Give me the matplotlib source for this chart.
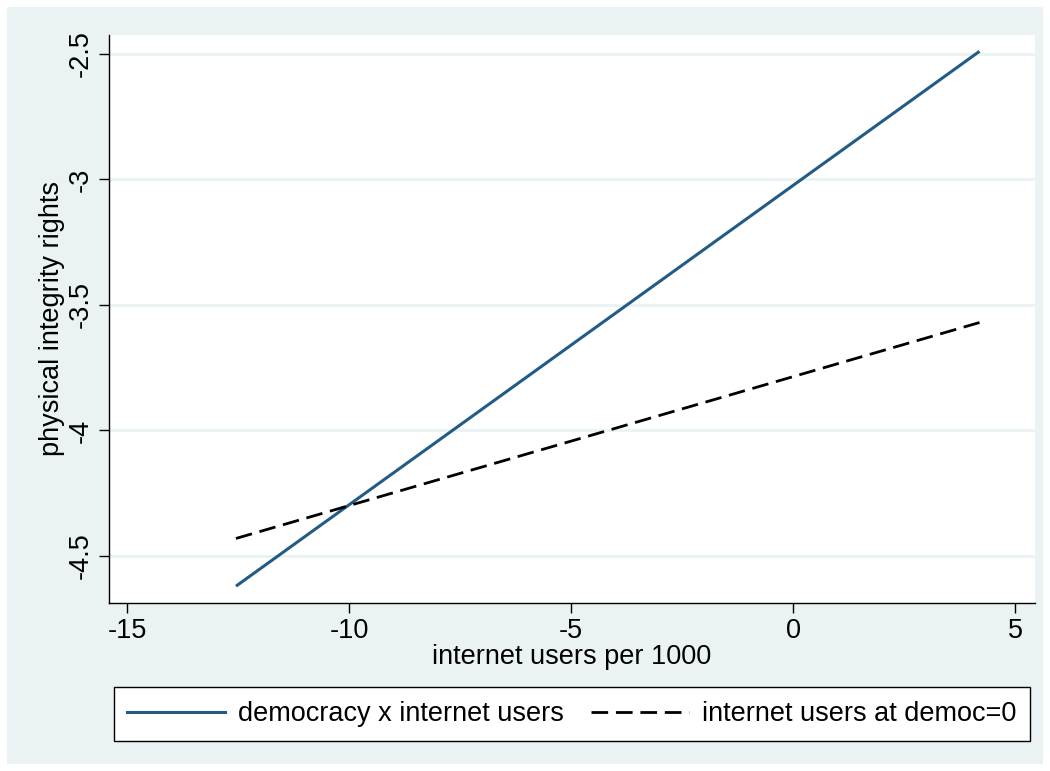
import matplotlib
matplotlib.use("Agg")
import matplotlib.pyplot as plt
from matplotlib.patches import Rectangle
from matplotlib.lines import Line2D

plt.rcParams['font.family'] = ['Liberation Sans', 'DejaVu Sans']

# Data
x_vals = [-12.55, 4.2]
interaction_y = [-4.62, -2.49]
democ0_y = [-4.43, -3.57]
x_ticks = [-15, -10, -5, 0, 5]
y_ticks = [-4.5, -4, -3.5, -3, -2.5]
y_ticklabels = ['-4.5', '-4', '-3.5', '-3', '-2.5']
series_labels = ['democracy x internet users', 'internet users at democ=0']

W, H = 1050, 771
BG = '#EAF2F3'
NAVY = '#225C86'
FS = 19.5
DASH = (0, (6, 2.8))

fig = plt.figure(figsize=(W / 100, H / 100), dpi=100, facecolor='white')
fig.patches.append(Rectangle((7 / W, 7 / H), (1043 - 7) / W, (764 - 7) / H,
                             transform=fig.transFigure, facecolor=BG,
                             edgecolor='none', zorder=-10))

ax = fig.add_axes([109 / W, 1 - 603 / H, (1035 - 109) / W, (603 - 35) / H])
ax.set_zorder(1)
ax.set_facecolor('white')
ax.set_xlim(-15.41, 5.45)
ax.set_ylim(-4.687, -2.425)

for yt in y_ticks:
    ax.axhline(yt, color=BG, lw=2.0, zorder=1)

ax.plot(x_vals, interaction_y, color=NAVY, lw=2.2, zorder=3, solid_capstyle='butt')
ax.plot(x_vals, democ0_y, color='black', lw=2.0, ls=DASH, zorder=3)

ax.spines['top'].set_visible(False)
ax.spines['right'].set_visible(False)
ax.spines['left'].set_linewidth(1.0)
ax.spines['bottom'].set_linewidth(1.0)

ax.set_xticks(x_ticks)
ax.set_xticklabels([str(t) for t in x_ticks])
ax.set_yticks(y_ticks)
ax.set_yticklabels(y_ticklabels, rotation=90, va='center')
ax.tick_params(axis='both', direction='out', length=7, width=1.0,
               labelsize=FS, pad=4)

ax.set_xlabel('internet users per 1000', fontsize=FS, labelpad=0)
ax.set_ylabel('physical integrity rights', fontsize=FS, labelpad=2)

handles = [Line2D([], [], color=NAVY, lw=2.2),
           Line2D([], [], color='black', lw=2.0, ls=DASH)]
leg = fig.legend(handles, series_labels, loc='center',
                 bbox_to_anchor=((118 + 1026) / 2 / W, 1 - 714 / H),
                 ncol=2, fontsize=FS, frameon=True, fancybox=False,
                 edgecolor='black', facecolor='white', handlelength=3.6,
                 columnspacing=1.0, borderpad=0.5, handletextpad=0.5,
                 framealpha=1)
leg.get_frame().set_linewidth(1.0)

fig.savefig('out.png', dpi=100, facecolor='white')
